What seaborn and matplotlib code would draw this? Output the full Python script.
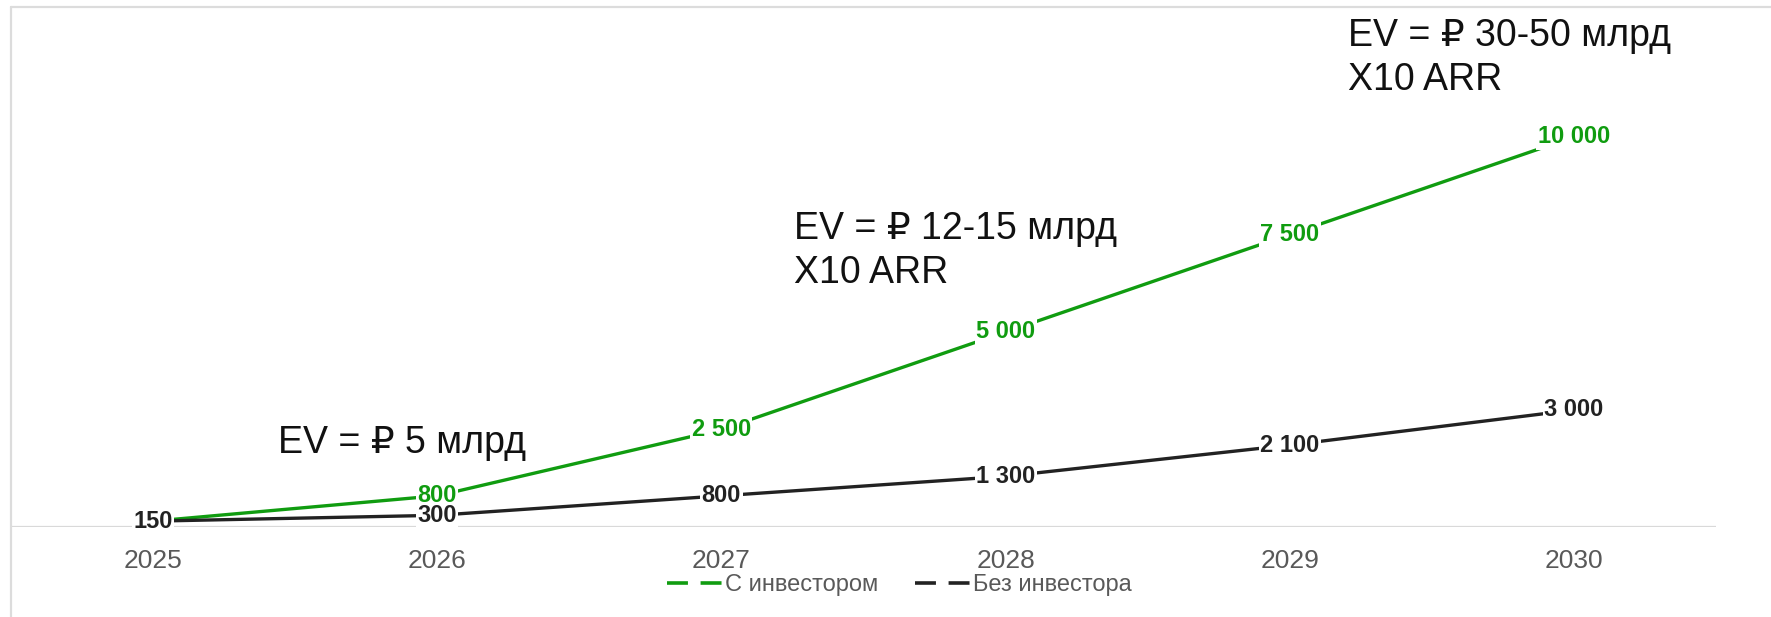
import pandas as pd
import matplotlib
matplotlib.use("Agg")
import matplotlib.pyplot as plt
from matplotlib.lines import Line2D
import seaborn as sns

# данные
years = [2025, 2026, 2027, 2028, 2029, 2030]
with_investor = [150, 800, 2500, 5000, 7500, 10000]
without_investor = [150, 300, 800, 1300, 2100, 3000]
series_names = ["С инвестором", "Без инвестора"]
series_colors = ["#109c10", "#222222"]

note_small = ["EV = ₽ 5 млрд"]
note_mid = ["EV = ₽ 12-15 млрд", "X10 ARR"]
note_big = ["EV = ₽ 30-50 млрд", "X10 ARR"]

sns.set_style("white")
plt.rcParams["font.family"] = ["Liberation Sans", "DejaVu Sans"]


def fmt(v):
    return f"{v:,}".replace(",", " ")


def main():
    df = pd.DataFrame({
        "year": years * 2,
        "value": with_investor + without_investor,
        "series": [series_names[0]] * len(years) + [series_names[1]] * len(years),
    })
    palette = dict(zip(series_names, series_colors))

    fig = plt.figure(figsize=(17.71, 6.17), dpi=100)
    ax = fig.add_axes([11 / 1771, 90 / 617, 1705 / 1771, 517 / 617])

    sns.lineplot(data=df, x="year", y="value", hue="series", hue_order=series_names,
                 palette=palette, linewidth=2.4, legend=False, ax=ax, zorder=3)

    ax.set_xlim(2024.5, 2030.5)
    ax.set_ylim(0, 13256)
    ax.set_xticks(years)
    ax.set_xticklabels([str(y) for y in years])
    ax.set_yticks([0])
    ax.set_yticklabels([])
    ax.yaxis.grid(True, color="#d9d9d9", linewidth=1.6)
    ax.set_xlabel("")
    ax.set_ylabel("")
    ax.tick_params(axis="x", length=0, pad=15.5, labelsize=19, labelcolor="#595959")
    ax.tick_params(axis="y", length=0)
    for s in ax.spines.values():
        s.set_visible(False)

    # подписи значений
    for name, vals in zip(series_names, [with_investor, without_investor]):
        for x, v in zip(years, vals):
            ax.text(x, v, fmt(v), ha="center", va="center", fontsize=17,
                    fontweight="bold", color=palette[name], zorder=5,
                    bbox=dict(facecolor="white", edgecolor="none", pad=1))

    # подписи EV
    for (x, y0), lines in zip([(2025.44, 1897), (2027.256, 7385), (2029.206, 12333)],
                              [note_small, note_mid, note_big]):
        for i, line in enumerate(lines):
            ax.text(x, y0 - i * 1128, line, ha="left", va="baseline",
                    fontsize=27, color="#111111", zorder=6)

    handles = [Line2D([], [], color=c, linewidth=2.6, dashes=(5.8, 3.5)) for c in series_colors]
    ax.legend(handles, series_names, loc="center", bbox_to_anchor=(0.521, -0.112),
              ncol=2, frameon=False, fontsize=17, handlelength=2.33,
              handletextpad=0.12, columnspacing=1.57, labelcolor="#595959")

    # рамка (слева и сверху)
    fig.add_artist(Line2D([11 / 1771, 11 / 1771], [0, 1 - 7 / 617],
                          transform=fig.transFigure, color="#dcdcdc", linewidth=1.6))
    fig.add_artist(Line2D([11 / 1771, 1], [1 - 7 / 617, 1 - 7 / 617],
                          transform=fig.transFigure, color="#dcdcdc", linewidth=1.6))

    fig.savefig("out.png", dpi=100)
    plt.close(fig)


if __name__ == "__main__":
    main()
